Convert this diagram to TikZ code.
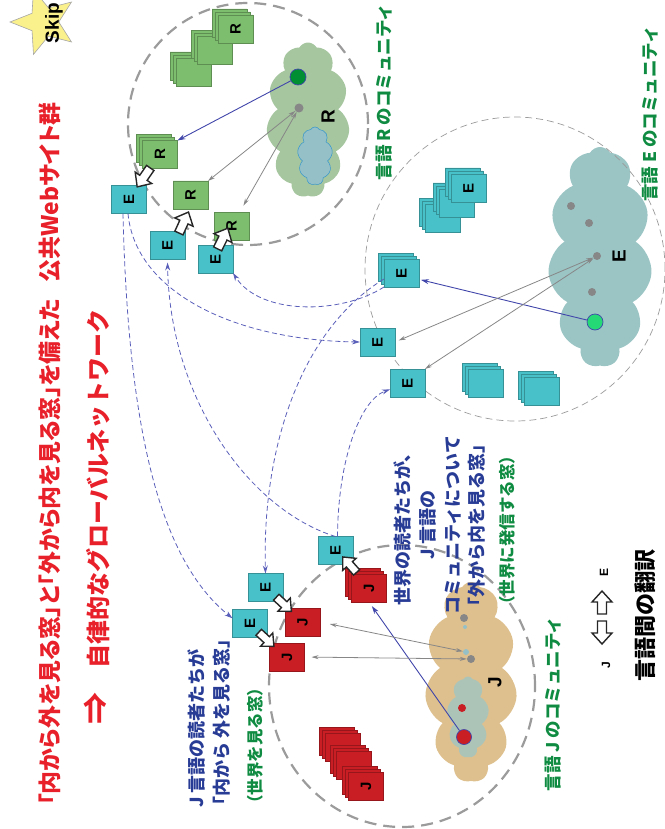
\documentclass[tikz,border=0pt]{standalone}
\usepackage{fontspec}
\setmainfont{Noto Sans CJK JP}
\newfontfamily\jpprop{Noto Sans CJK JP}[RawFeature=+palt]
\newfontfamily\lat{Liberation Sans}
\usetikzlibrary{shapes.misc,shapes.symbols,shapes.geometric,arrows.meta}

\definecolor{titlered}{RGB}{232,32,42}
\definecolor{commgreen}{RGB}{15,140,65}
\definecolor{readerblue}{RGB}{40,60,150}
\definecolor{pagegreen}{RGB}{125,190,110}
\definecolor{pagecyan}{RGB}{72,194,200}
\definecolor{pagered}{RGB}{200,30,36}
\definecolor{cloudR}{RGB}{166,198,160}
\definecolor{cloudE}{RGB}{155,196,196}
\definecolor{cloudJ}{RGB}{222,192,142}
\definecolor{pondR}{RGB}{150,192,200}
\definecolor{pondJ}{RGB}{172,196,184}
\definecolor{linkblue}{RGB}{65,70,170}
\definecolor{dashblue}{RGB}{90,95,185}
\definecolor{ringgray}{RGB}{155,155,155}
\definecolor{dotgray}{RGB}{135,135,135}
\definecolor{starfill}{RGB}{250,240,140}

\tikzset{
  pagebox/.style={chamfered rectangle, chamfered rectangle corners=north east,
    chamfered rectangle xsep=4pt, chamfered rectangle ysep=4pt,
    minimum width=35pt, minimum height=28pt, inner sep=0pt, outer sep=0pt,
    fill=#1, draw=#1!75!black, line width=0.5pt},
  pagetag/.style={rotate=90, inner sep=0pt, font=\lat\bfseries\fontsize{15}{15}\selectfont},
  cloudblob/.style={cloud, cloud puffs=11, cloud puff arc=120, aspect=0.55, inner sep=0pt},
  dot/.style={circle, inner sep=0pt, minimum size=#1},
  bigring/.style={ellipse, draw=ringgray, line width=2.2pt, dash pattern=on 12pt off 7pt, inner sep=0pt},
  thinring/.style={ellipse, draw=ringgray, line width=0.7pt, dash pattern=on 7pt off 4pt, inner sep=0pt},
  linkarrow/.style={draw=linkblue, line width=0.9pt, -{Stealth[length=8pt,width=5pt]}},
  linkdash/.style={draw=dashblue, line width=0.8pt, dash pattern=on 5pt off 3pt, -{Stealth[length=8pt,width=5pt]}},
  peer/.style={draw=dotgray, line width=0.8pt, {Stealth[length=7pt,width=4pt]}-{Stealth[length=7pt,width=4pt]}},
  titletext/.style={rotate=90, inner sep=0pt, text=titlered, font=\jpprop\bfseries\fontsize{22.9}{22.9}\selectfont},
  commtext/.style={rotate=90, inner sep=0pt, text=commgreen, font=\bfseries\fontsize{17.5}{17.5}\selectfont},
  readertext/.style={rotate=90, inner sep=0pt, text=readerblue, font=\bfseries\fontsize{18}{18}\selectfont},
  fatarrow/.pic={\draw[line width=1.4pt, draw=black!85, fill=white, line join=miter]
    (-11,-4.5) -- (1,-4.5) -- (1,-10) -- (12,0) -- (1,10) -- (1,4.5) -- (-11,4.5) -- cycle;}
}

% one page, and a pile of three pages
\newcommand{\webpage}[4]{%
  \node[pagebox=#3] (#1) at (#2) {};
  \node[pagetag] (#1tag) at (#1) {#4};
}
\newcommand{\webstack}[4]{%
  \node[pagebox=#3, xshift=-6pt, yshift=6pt] (#1back) at (#2) {};
  \node[pagebox=#3, xshift=-3pt, yshift=3pt] (#1mid) at (#2) {};
  \webpage{#1}{#2}{#3}{#4}%
}

\begin{document}
\begin{tikzpicture}[x=1pt,y=-1pt]
\useasboundingbox (0,0) rectangle (664,829);

% skip button
\node[star, star points=5, star point ratio=2.3, minimum size=68pt, inner sep=0pt,
  fill=starfill, draw=gray!70, line width=0.6pt, rotate=90] (skipstar) at (44,22) {};
\node[rotate=90, font=\lat\bfseries\fontsize{19}{19}\selectfont] (skip) at (54,23) {Skip};

% language clouds
\node[cloudblob, fill=cloudR, minimum width=83pt, minimum height=155pt] (rcloud) at (308,120) {};
\node[cloudblob, fill=pondR, draw=blue!35!cyan!60!gray, line width=0.5pt, cloud puffs=9,
  minimum width=35pt, minimum height=58pt] (rpond) at (315,156) {};
\node[cloudblob, fill=cloudE, minimum width=104pt, minimum height=220pt] (ecloud) at (600,257) {};
\node[cloudblob, fill=cloudJ, minimum width=92pt, minimum height=200pt] (jcloud) at (471,682) {};
\node[cloudblob, fill=pondJ, cloud puffs=9, minimum width=42pt, minimum height=81pt] (jpond) at (468,717) {};

% community rings
\node[bigring, minimum width=240pt, minimum height=242pt] (rring) at (248,124) {};
\node[thinring, minimum width=300pt, minimum height=304pt] (ering) at (515,269) {};
\node[bigring, minimum width=266pt, minimum height=282pt] (jring) at (402,686) {};

% dots inside the clouds
\node[dot=16pt, fill=green!45!black!80!cyan, draw=linkblue, line width=0.7pt] (rseed) at (298,77) {};
\node[dot=9pt, fill=dotgray] (rhub) at (299,108) {};
\node[dot=8pt, fill=dotgray] (ea) at (571,206) {};
\node[dot=8pt, fill=dotgray] (eb) at (589,223) {};
\node[dot=8pt, fill=dotgray] (ehub) at (597,256) {};
\node[dot=8pt, fill=dotgray] (ec) at (592,292) {};
\node[dot=16pt, fill=green!55!cyan!70!gray, draw=linkblue, line width=0.7pt] (eseed) at (595,322) {};
\node[dot=8pt, fill=dotgray] (ja) at (464,618) {};
\node[dot=4pt, fill=pondR] (jb) at (465,627) {};
\node[dot=6pt, fill=pondR] (jhubb) at (466,652) {};
\node[dot=8pt, fill=dotgray] (jhub) at (471,659) {};
\node[dot=8pt, fill=pagered] (jc) at (462,708) {};
\node[dot=15pt, fill=pagered, draw=linkblue, line width=0.7pt] (jseed) at (464,737) {};

\node[pagetag, font=\lat\bfseries\fontsize{19}{19}\selectfont] (rname) at (328,117) {R};
\node[pagetag, font=\lat\bfseries\fontsize{19}{19}\selectfont] (ename) at (619,256) {E};
\node[pagetag, font=\lat\bfseries\fontsize{19}{19}\selectfont] (jname) at (495,682) {J};

% R pages
\webstack{r3}{193.5,72}{pagegreen}{}
\webstack{r2}{214.5,50.5}{pagegreen}{}
\webstack{r1}{235.5,29}{pagegreen}{R}
\webstack{r4}{160,154.5}{pagegreen}{R}
\webpage{r5}{190.5,195}{pagegreen}{R}
\webpage{r6}{231.5,226.5}{pagegreen}{R}

% E pages
\webstack{e1}{442.5,218}{pagecyan}{}
\webstack{e2}{456.5,203}{pagecyan}{}
\webstack{e3}{468.5,188}{pagecyan}{E}
\webstack{e4}{401.5,273}{pagecyan}{E}
\webpage{e5}{377.5,342}{pagecyan}{E}
\webpage{e6}{407.5,383}{pagecyan}{E}
\webstack{e7}{486,383}{pagecyan}{}
\webstack{e8}{542,391}{pagecyan}{}
\webpage{e9}{129,199.5}{pagecyan}{E}
\webpage{e10}{167.5,245.5}{pagecyan}{E}
\webpage{e11}{215.5,259}{pagecyan}{E}
\webpage{e12}{335.5,550.5}{pagecyan}{E}
\webpage{e13}{265.5,587.5}{pagecyan}{E}
\webpage{e14}{250,623}{pagecyan}{E}

% J pages
\webstack{j1}{369,588}{pagered}{J}
\webpage{j2}{302.5,622}{pagered}{J}
\webpage{j3}{287,657}{pagered}{J}
\webstack{j4}{343,747}{pagered}{}
\webstack{j5}{354,765}{pagered}{}
\webstack{j6}{366,786}{pagered}{J}

% links between the communities
\draw[linkdash] ([xshift=-6pt]e9.south) .. controls (128,430) and (160,560) .. (e14.165);
\draw[linkdash] ([xshift=-1pt]e9.south) .. controls (135,290) and (230,340) .. (e5.west);
\draw[linkdash, shorten >=3pt] (e12.north) .. controls (250,510) and (170,400) .. (e10.south);
\draw[linkdash] (e4.south west) .. controls (340,315) and (260,315) .. (e11.south east);
\draw[linkdash] ([yshift=-6pt]e4.west) .. controls (300,330) and (262,450) .. (e13.north);
\draw[linkdash] ([xshift=2pt]e12.north) .. controls (338,460) and (360,400) .. (e6.200);

% publishing and reading inside each community
\draw[linkarrow] (rseed) -- (r4.north east);
\draw[linkarrow, shorten >=2pt] (eseed) -- (e4.-20);
\draw[linkarrow, shorten >=5pt] (jseed) -- (j1.south);
\draw[peer] (rhub) -- (r5.north east);
\draw[peer, shorten >=8pt] (rhub) -- ([xshift=8pt]r6.north);
\draw[peer, shorten >=4pt] (ehub) -- (e5.east);
\draw[peer] (ehub) -- (e6.north east);
\draw[peer, shorten >=10pt] (jhubb) -- (j2.east);
\draw[peer, shorten >=7pt] (jhub) -- (j3.east);

% translation arrows
\pic[rotate=-124.6] (t1) at (144,177) {fatarrow};
\pic[rotate=65.5] (t2) at (183.5,223) {fatarrow};
\pic[rotate=63.8] (t3) at (222.5,239) {fatarrow};
\pic[rotate=-43, scale=0.9] (t4) at (283.5,604) {fatarrow};
\pic[rotate=-42.6, scale=0.9] (t5) at (266,639) {fatarrow};
\pic[rotate=131.8, scale=0.9] (t6) at (350,565) {fatarrow};

% texts
\node[titletext] (headline) at (50,454) {「内から外を見る窓」と「外から内を見る窓」を備えた\hspace{0.7em}公共Webサイト群};
\node[titletext, font=\bfseries\fontsize{24}{24}\selectfont] (slogan) at (97,517)
  {{\fontsize{32}{32}\selectfont ⇒}　自律的なグローバルネットワーク};

\node[commtext] (rcomm) at (384,92) {言語 R のコミュニティ};
\node[commtext] (ecomm) at (650,114) {言語 E のコミュニティ};
\node[commtext] (jcomm) at (553,704) {言語 J のコミュニティ};

\node[readertext, anchor=west] (inside1) at (196,808) {J 言語の読者たちが};
\node[readertext, anchor=west] (inside2) at (222,815) {「内から 外を見る窓」};
\node[readertext, anchor=west, text=commgreen, font=\bfseries\fontsize{16.5}{16.5}\selectfont] (inside3) at (255,812) {（世界を見る窓）};

\node[readertext] (outside1) at (403,525) {世界の読者たちが、};
\node[readertext] (outside2) at (428,525) {J 言語の};
\node[readertext] (outside3) at (453,525) {コミュニティについて};
\node[readertext] (outside4) at (477,525) {「外から内を見る窓」};
\node[readertext, text=commgreen, font=\bfseries\fontsize{16.5}{16.5}\selectfont] (outside5) at (507,530) {（世界に発信する窓）};

% legend
\node[rotate=90, inner sep=0pt, font=\bfseries\fontsize{22}{22}\selectfont] (legend) at (645,615) {言語間の翻訳};
\node[pagetag, font=\lat\bfseries\fontsize{12}{12}\selectfont] (legj) at (606,665) {J};
\node[pagetag, font=\lat\bfseries\fontsize{12}{12}\selectfont] (lege) at (604,572) {E};
\pic[rotate=90] (legup) at (602,603) {fatarrow};
\pic[rotate=-90] (legdown) at (602,632) {fatarrow};
\end{tikzpicture}
\end{document}
